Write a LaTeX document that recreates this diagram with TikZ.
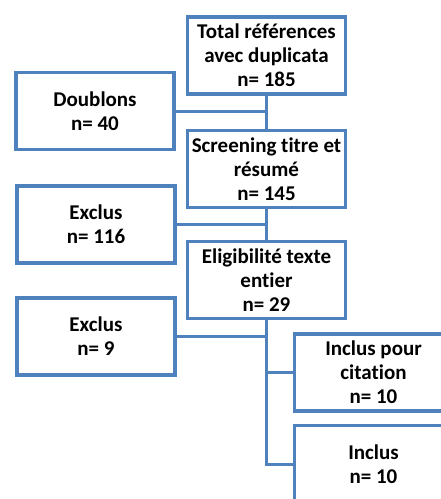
\documentclass[tikz,border=0pt]{standalone}
\usepackage{fontspec}
\setmainfont{Carlito}[Ligatures=NoCommon]
\definecolor{boxblue}{RGB}{79,129,189}
\usepackage{tikz}
\usetikzlibrary{positioning, calc}

\begin{document}
\begin{tikzpicture}[
    x=1pt, y=-1pt,
    box/.style={draw=boxblue, line width=3.5pt, minimum width=158pt, minimum height=77pt, inner sep=0pt, align=center, font=\fontsize{21}{24}\selectfont\bfseries},
    link/.style={draw=boxblue, line width=3pt}
]
\clip (0,0) rectangle (441,499);
\fill[white] (0,0) rectangle (441,499);
\node[box] (total) at (266.5,55.5) {Total références\\avec duplicata\\n= 185};
\node[box] (doublons) at (95,111) {Doublons\\n= 40};
\node[box] (screen) at (266.5,169) {Screening titre et\\résumé\\n= 145};
\node[box] (exclus1) at (96,224.5) {Exclus\\n= 116};
\node[box] (elig) at (266.5,280) {Eligibilité texte\\entier\\n= 29};
\node[box] (exclus2) at (96,336.5) {Exclus\\n= 9};
\node[box] (citation) at (373.5,372.5) {Inclus pour\\citation\\n= 10};
\node[box] (inclus) at (373.5,464) {Inclus\\n= 10};
% connecteurs
\draw[link] (total) -- (screen);
\draw[link] (doublons.east) -- (doublons.east -| total.south);
\draw[link] (screen) -- (elig);
\draw[link] (exclus1.east) -- (exclus1.east -| screen.south);
\draw[link] (elig.south) |- (inclus.west);
\draw[link] (exclus2.east) -- (exclus2.east -| elig.south);
\draw[link] (citation.west) -- (citation.west -| elig.south);
\end{tikzpicture}
\end{document}
